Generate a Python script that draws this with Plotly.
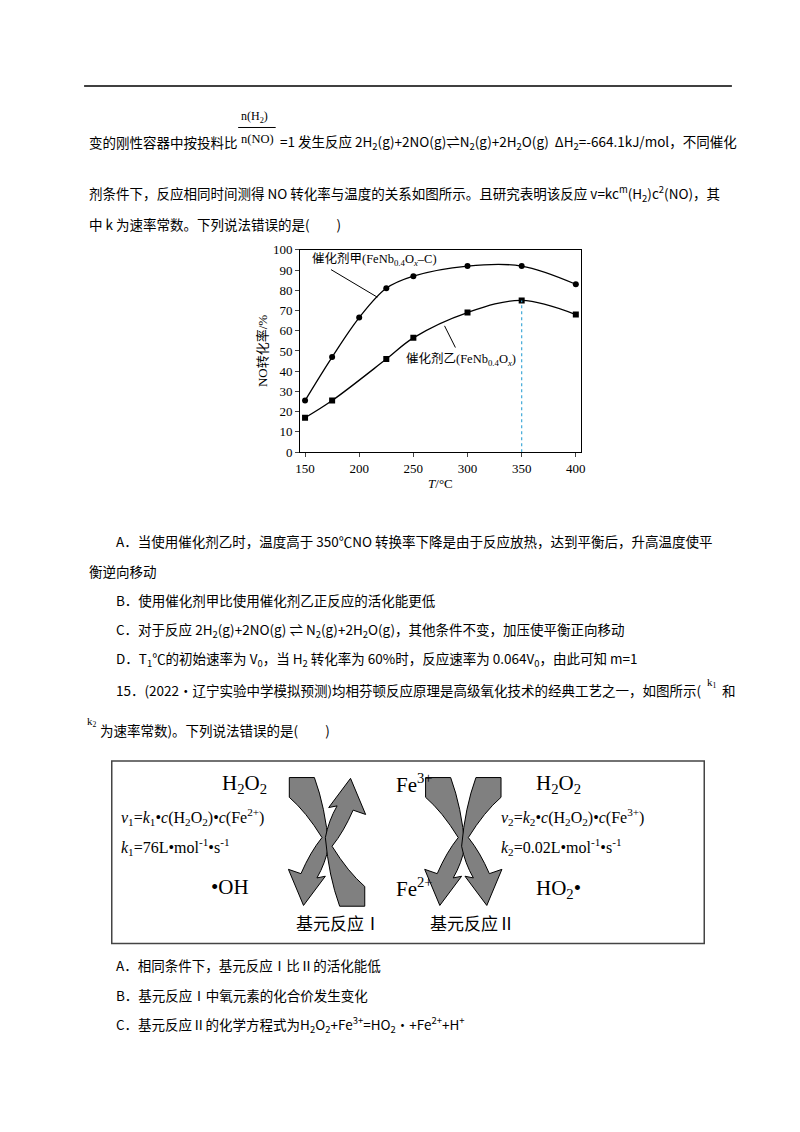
import plotly.graph_objects as go

# chart data
temps_a = [150, 175, 200, 225, 250, 300, 350, 400]
conv_a = [25.5, 47, 66.5, 81, 87, 92, 92, 83]
temps_b = [150, 175, 225, 250, 300, 350, 400]
conv_b = [17, 25.5, 46, 56.5, 69, 75, 68]
x_ticks = [150, 200, 250, 300, 350, 400]
y_ticks = list(range(0, 101, 10))

W, H = 800, 1132
SERIF = "Liberation Serif, Noto Sans CJK SC"
CJK = "Noto Sans CJK SC"

fig = go.Figure()
fig.add_trace(go.Scatter(x=temps_a, y=conv_a, mode="lines+markers", line=dict(color="black", width=1.3, shape="spline"),
                         marker=dict(symbol="circle", size=6, color="black"), showlegend=False))
fig.add_trace(go.Scatter(x=temps_b, y=conv_b, mode="lines+markers", line=dict(color="black", width=1.3, shape="spline"),
                         marker=dict(symbol="square", size=6, color="black"), showlegend=False))
fig.add_trace(go.Scatter(x=[350, 350], y=[0, conv_b[5]], mode="lines", line=dict(color="#3fa9d8", width=1.2, dash="dot"),
                         showlegend=False))

def px(x):
    return x / W

def py(y):
    return 1 - y / H

# whole-page pixel overlay axis (x2/y2) for text and shapes
fig.update_layout(
    width=W, height=H, margin=dict(l=0, r=0, t=0, b=0), plot_bgcolor="rgba(0,0,0,0)", paper_bgcolor="white",
    xaxis=dict(domain=[px(290.7), px(575)], range=[145.4, 404.6], tickvals=x_ticks, ticks="outside", ticklen=4,
               showline=True, mirror=True, linecolor="black", showgrid=False, zeroline=False,
               tickfont=dict(family=SERIF, size=13, color="black"),
               title=dict(text="<i>T</i>/°C", font=dict(family=SERIF, size=13, color="black"), standoff=4)),
    yaxis=dict(domain=[py(443), py(238)], range=[0, 100], tickvals=y_ticks, ticks="outside", ticklen=4,
               showline=True, mirror=True, linecolor="black", showgrid=False, zeroline=False,
               tickfont=dict(family=SERIF, size=13, color="black"),
               title=dict(text="NO转化率/%", font=dict(family=SERIF, size=13, color="black"), standoff=2)),
    xaxis2=dict(domain=[0, 1], range=[0, W], visible=False, fixedrange=True),
    yaxis2=dict(domain=[0, 1], range=[H, 0], visible=False, fixedrange=True),
)
fig.add_trace(go.Scatter(x=[0], y=[0], xaxis="x2", yaxis="y2", mode="markers", marker=dict(opacity=0),
                         showlegend=False, hoverinfo="skip"))

shapes = []
annos = []

def text(x, y, s, size=14, font=CJK, anchor="left"):
    annos.append(dict(x=x, y=y, xref="x2", yref="y2", text=s, showarrow=False, xanchor=anchor, yanchor="middle",
                      font=dict(family=font, size=size, color="black")))

def line(x0, y0, x1, y1, color="black", width=1):
    shapes.append(dict(type="line", xref="x2", yref="y2", x0=x0, y0=y0, x1=x1, y1=y1, line=dict(color=color, width=width)))

# header rule
line(72, 72, 728, 72, width=1.5)

# question text
text(229, 103, "n(H<sub>2</sub>)", 12, SERIF)
line(228, 114, 266, 114, width=1)
text(229, 126, "n(NO)", 12.5, SERIF)
text(75, 129, "变的刚性容器中按投料比", 13.5)
text(268, 129, "=1 发生反应 2H<sub>2</sub>(g)+2NO(g)⇌N<sub>2</sub>(g)+2H<sub>2</sub>O(g)  ΔH<sub>2</sub>=-664.1kJ/mol，不同催化", 13.5)
text(75, 181, "剂条件下，反应相同时间测得 NO 转化率与温度的关系如图所示。且研究表明该反应 v=kc<sup>m</sup>(H<sub>2</sub>)c<sup>2</sup>(NO)，其", 13.5)
text(75, 212, "中 k 为速率常数。下列说法错误的是(　　)", 13.5)

# chart annotations
text(301, 248, "催化剂甲(FeNb<sub>0.4</sub>O<sub><i>x</i></sub>–C)", 12.5, SERIF)
line(322, 258, 369, 286)
text(396, 349, "催化剂乙(FeNb<sub>0.4</sub>O<sub><i>x</i></sub>)", 12.5, SERIF)
line(437, 315, 448, 337)

# options
text(102, 533, "A．当使用催化剂乙时，温度高于 350℃NO 转换率下降是由于反应放热，达到平衡后，升高温度使平", 13.5)
text(75, 563, "衡逆向移动", 13.5)
text(102, 593, "B．使用催化剂甲比使用催化剂乙正反应的活化能更低", 13.5)
text(102, 623, "C．对于反应 2H<sub>2</sub>(g)+2NO(g) ⇌ N<sub>2</sub>(g)+2H<sub>2</sub>O(g)，其他条件不变，加压使平衡正向移动", 13.5)
text(102, 653, "D．T<sub>1</sub>℃的初始速率为 V<sub>0</sub>，当 H<sub>2</sub> 转化率为 60%时，反应速率为 0.064V<sub>0</sub>，由此可知 m=1", 13.5)
text(102, 684, "15．(2022·辽宁实验中学模拟预测)均相芬顿反应原理是高级氧化技术的经典工艺之一，如图所示(", 13.5)
text(701, 677, "k<sub>1</sub>", 11, SERIF)
text(716, 684, "和", 13.5)
text(73, 716, "k<sub>2</sub>", 11, SERIF)
text(86, 725, "为速率常数)。下列说法错误的是(　　)", 13.5)

# diagram box
shapes.append(dict(type="rect", xref="x2", yref="y2", x0=100, y0=756, x1=700, y1=941, line=dict(color="#444", width=1.5)))

def arrow_path(cx, cy, sx=1, sy=1):
    pts = [("M", [(-45, -75)]), ("L", [(-15, -75)]), ("Q", [(-2, -40), (2, 5)]), ("Q", [(-2, 25), (-12, 42)]),
           ("L", [(-2, 40)]), ("L", [(-28, 74)]), ("L", [(-46, 32)]), ("L", [(-31, 37)]),
           ("Q", [(-20, 12), (-6, -5)]), ("Q", [(-25, -35), (-45, -52)])]
    s = ""
    for cmd, p in pts:
        s += cmd + " " + " ".join("%.1f,%.1f" % (cx + sx * a, cy + sy * b) for a, b in p) + " "
    return s + "Z"

for cx, mirror in [(318, -1), (456, 1)]:
    for sx, sy in [(0.85, 0.87), (-0.85, 0.87 * mirror)]:
        shapes.append(dict(type="path", xref="x2", yref="y2", path=arrow_path(cx, 838, sx, sy),
                           fillcolor="#808080", line=dict(color="black", width=1)))

text(210, 779, "H<sub>2</sub>O<sub>2</sub>", 21, SERIF)
text(386, 779, "Fe<sup>3+</sup>", 21, SERIF)
text(528, 779, "H<sub>2</sub>O<sub>2</sub>", 21, SERIF)
text(107, 813, "<i>v</i><sub>1</sub>=<i>k</i><sub>1</sub>•<i>c</i>(H<sub>2</sub>O<sub>2</sub>)•<i>c</i>(Fe<sup>2+</sup>)", 16, SERIF)
text(107, 843, "<i>k</i><sub>1</sub>=76L•mol<sup>-1</sup>•s<sup>-1</sup>", 16, SERIF)
text(492, 813, "<i>v</i><sub>2</sub>=<i>k</i><sub>2</sub>•<i>c</i>(H<sub>2</sub>O<sub>2</sub>)•<i>c</i>(Fe<sup>3+</sup>)", 16, SERIF)
text(492, 843, "<i>k</i><sub>2</sub>=0.02L•mol<sup>-1</sup>•s<sup>-1</sup>", 16, SERIF)
text(198, 884, "•OH", 21, SERIF)
text(386, 884, "Fe<sup>2+</sup>", 21, SERIF)
text(528, 886, "HO<sub>2</sub>•", 21, SERIF)
text(330, 922, "基元反应Ⅰ", 17, SERIF, "center")
text(465, 922, "基元反应Ⅱ", 17, SERIF, "center")

text(102, 963, "A．相同条件下，基元反应Ⅰ比Ⅱ的活化能低", 13.5)
text(102, 993, "B．基元反应Ⅰ中氧元素的化合价发生变化", 13.5)
text(102, 1023, "C．基元反应Ⅱ的化学方程式为H<sub>2</sub>O<sub>2</sub>+Fe<sup>3+</sup>=HO<sub>2</sub>·+Fe<sup>2+</sup>+H<sup>+</sup>", 13.5)

fig.update_layout(shapes=shapes, annotations=annos)
fig.write_html("out.html")
